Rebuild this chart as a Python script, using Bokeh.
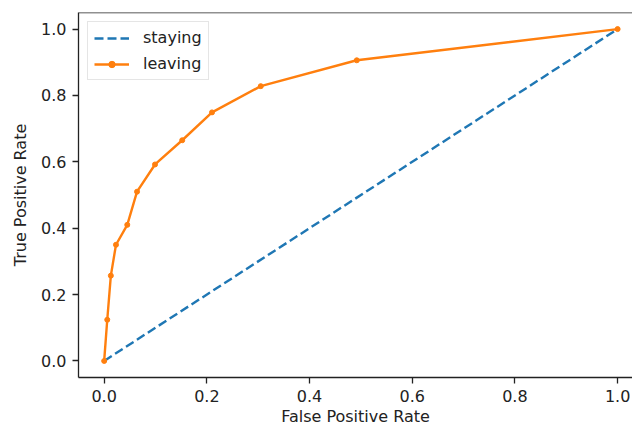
from bokeh.plotting import figure
from bokeh.models import Range1d, FixedTicker, PrintfTickFormatter, Span
from bokeh.embed import file_html
from bokeh.resources import INLINE

staying_fpr = [0.0, 1.0]
staying_tpr = [0.0, 1.0]
leaving_fpr = [0.0, 0.006, 0.013, 0.023, 0.045, 0.064, 0.099, 0.152, 0.210, 0.305, 0.492, 1.0]
leaving_tpr = [0.0, 0.124, 0.257, 0.350, 0.410, 0.510, 0.592, 0.665, 0.749, 0.828, 0.906, 1.0]
tick_values = [0.0, 0.2, 0.4, 0.6, 0.8, 1.0]

BLUE = "#1f77b4"
ORANGE = "#ff7f0e"
FONT = "DejaVu Sans"

p = figure(width=632, height=429, output_backend="svg", toolbar_location=None,
           x_range=Range1d(-0.05, 1.029), y_range=Range1d(-0.05, 1.05),
           min_border_left=78, min_border_right=0, min_border_top=12, min_border_bottom=52)
p.outline_line_color = None
p.grid.visible = False
p.background_fill_color = "white"
p.border_fill_color = "white"

p.line(staying_fpr, staying_tpr, line_color=BLUE, line_width=2.4, line_dash="9 4",
       legend_label="staying")
p.line(leaving_fpr, leaving_tpr, line_color=ORANGE, line_width=2.4, legend_label="leaving")
p.scatter(leaving_fpr, leaving_tpr, marker="circle", size=5, fill_color=ORANGE,
          line_color=ORANGE, legend_label="leaving")

p.add_layout(Span(location=1.05, dimension="width", line_color="#222222", line_width=1.3))

for ax in (p.xaxis[0], p.yaxis[0]):
    ax.ticker = FixedTicker(ticks=tick_values)
    ax.formatter = PrintfTickFormatter(format="%.1f")
    ax.axis_line_color = "#222222"
    ax.axis_line_width = 1.3
    ax.major_tick_line_color = "#222222"
    ax.major_tick_line_width = 1.3
    ax.major_tick_out = 6
    ax.major_tick_in = 0
    ax.minor_tick_line_color = None
    ax.major_label_text_font = FONT
    ax.major_label_text_font_size = "16px"
    ax.major_label_text_color = "#222222"
    ax.major_label_standoff = 6
    ax.axis_label_text_font = FONT
    ax.axis_label_text_font_size = "16px"
    ax.axis_label_text_font_style = "normal"
    ax.axis_label_text_color = "#222222"

p.xaxis.axis_label = "False Positive Rate"
p.yaxis.axis_label = "True Positive Rate"
p.xaxis.axis_label_standoff = 2
p.yaxis.axis_label_standoff = 8

lg = p.legend[0]
lg.location = "top_left"
lg.margin = 9
lg.padding = 6
lg.spacing = 7
lg.glyph_width = 35
lg.glyph_height = 16
lg.label_height = 16
lg.label_standoff = 14
lg.label_text_font = FONT
lg.label_text_font_size = "16px"
lg.label_text_color = "#222222"
lg.border_line_color = "#cccccc"
lg.border_line_width = 1
lg.background_fill_alpha = 0.8

open("out.html", "w").write(file_html(p, INLINE))
